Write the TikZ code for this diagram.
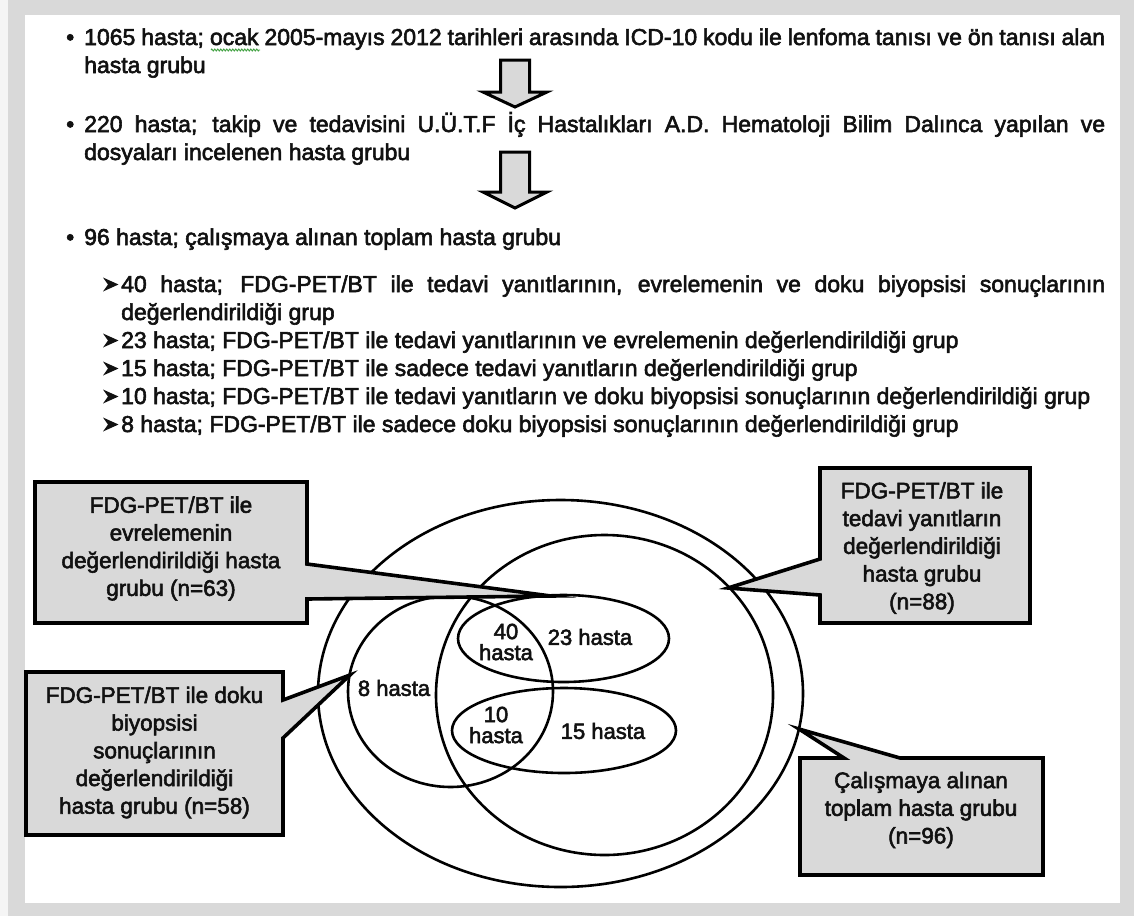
\documentclass[tikz,border=0pt]{standalone}
\usepackage{fontspec}
\setmainfont{Liberation Sans}[FakeBold=2.5]
\usetikzlibrary{decorations.pathmorphing}
\definecolor{framegray}{HTML}{D9D9D9}
\definecolor{boxgray}{HTML}{D9D9D9}
\definecolor{inkblack}{HTML}{111111}
\definecolor{spellgreen}{HTML}{3FA03F}
\begin{document}
\begin{tikzpicture}[x=1pt,y=-1pt,
  ln/.style={anchor=base west,inner sep=0pt,text=inkblack,font=\fontsize{23pt}{28pt}\selectfont},
  bul/.style={anchor=base west,inner sep=0pt,text=inkblack,font=\fontsize{23pt}{28pt}\selectfont},
  boxtxt/.style={inner sep=0pt,align=center,text=inkblack,font=\fontsize{22.5pt}{27.7pt}\selectfont},
  vlab/.style={inner sep=0pt,align=center,text=inkblack,font=\fontsize{22pt}{21pt}\selectfont},
  venn/.style={draw=black,line width=2.6pt},
  cbox/.style={draw=black,fill=boxgray,line width=3.6pt,line join=miter,miter limit=20},
  barrow/.style={draw=black,fill=boxgray,line width=3pt,line join=miter,miter limit=20},
  squiggle/.style={draw=spellgreen,line width=0.9pt,decorate,decoration={zigzag,segment length=3pt,amplitude=1pt}},
  subarrow/.pic={\fill[inkblack] (0,-14) -- (15.5,-7) -- (0,0) -- (5,-7) -- cycle;}
]
\useasboundingbox (0,0) rectangle (1134,916);
% frame
\fill[framegray] (0,0) rectangle (1134,916);
\fill[gray!8] (0,0) rectangle (8,916);
\fill[white] (25,15) rectangle (1120,903);

% main bullet text
\node[bul] (b1) at (66,45) {•};
\node[ln] (l1) at (84,45) {\makebox[1021pt][s]{1065 hasta; ocak 2005-mayıs 2012 tarihleri arasında ICD-10 kodu ile lenfoma tanısı ve ön tanısı alan}};
\coordinate (sqa) at (211,50);
\coordinate (sqb) at (260,50);
\draw[squiggle] (sqa) -- (sqb);
\node[ln] (l2) at (84,73) {hasta grubu};
\node[bul] (b3) at (66,132) {•};
\node[ln] (l3) at (84,132) {\makebox[1021pt][s]{220 hasta; takip ve tedavisini U.Ü.T.F İç Hastalıkları A.D. Hematoloji Bilim Dalınca yapılan ve}};
\node[ln] (l4) at (84,160) {dosyaları incelenen hasta grubu};
\node[bul] (b5) at (66,245) {•};
\node[ln] (l5) at (84,245) {96 hasta; çalışmaya alınan toplam hasta grubu};

% sub bullets
\foreach \yy in {292,348,376,404,432}{
  \pic at (103,\yy-0.5) {subarrow};
}
\node[ln] (s1) at (121,292) {\makebox[984pt][s]{40 hasta; FDG-PET/BT ile tedavi yanıtlarının, evrelemenin ve doku biyopsisi sonuçlarının}};
\node[ln] (s1b) at (121,320) {değerlendirildiği grup};
\node[ln] (s2) at (121,348) {23 hasta; FDG-PET/BT ile tedavi yanıtlarının ve evrelemenin değerlendirildiği grup};
\node[ln] (s3) at (121,376) {15 hasta; FDG-PET/BT ile sadece tedavi yanıtların değerlendirildiği grup};
\node[ln] (s4) at (121,404) {10 hasta; FDG-PET/BT ile tedavi yanıtların ve doku biyopsisi sonuçlarının değerlendirildiği grup};
\node[ln] (s5) at (121,432) {8 hasta; FDG-PET/BT ile sadece doku biyopsisi sonuçlarının değerlendirildiği grup};

% block arrows
\draw[barrow] (500.5,60) -- (529.5,60) -- (529.5,92) -- (547,92) -- (515,107) -- (483,92) -- (500.5,92) -- cycle;
\draw[barrow] (500.5,152) -- (529.5,152) -- (529.5,192) -- (547,192) -- (515,208) -- (483,192) -- (500.5,192) -- cycle;

% Venn ellipses
\draw[venn] (560.5,693.5) ellipse [x radius=242.5pt, y radius=193.5pt];
\draw[venn] (604.5,695) ellipse [x radius=168.5pt, y radius=160pt];
\draw[venn] (450.5,691.5) ellipse [x radius=102.5pt, y radius=95.5pt];
\draw[venn] (563.5,638.5) ellipse [x radius=105.5pt, y radius=43.5pt];
\draw[venn] (564,730.5) ellipse [x radius=112pt, y radius=42.5pt];

\node[vlab] (v40) at (506,642) {40\\hasta};
\node[vlab] (v23) at (590,637) {23 hasta};
\node[vlab] (v10) at (496,725) {10\\hasta};
\node[vlab] (v15) at (603,731) {15 hasta};
\node[vlab] (v8) at (394,688) {8 hasta};

% callouts
\draw[cbox] (35,482) -- (307,482) -- (307,564) -- (551,596) -- (307,599) -- (307,623) -- (35,623) -- cycle;
\draw[cbox] (26,672) -- (283,672) -- (283,700) -- (350,675) -- (283,738) -- (283,835) -- (26,835) -- cycle;
\draw[cbox] (820,468) -- (1030,468) -- (1030,623) -- (820,623) -- (820,595) -- (728,588) -- (820,559) -- cycle;
\draw[cbox] (800,758) -- (844,758) -- (799,729) -- (900,758) -- (1043,758) -- (1043,875) -- (800,875) -- cycle;

\node[boxtxt] (t1) at (171,548.5) {FDG-PET/BT ile\\evrelemenin\\değerlendirildiği hasta\\grubu (n=63)};
\node[boxtxt] (t2) at (154.5,752.5) {FDG-PET/BT ile doku\\biyopsisi\\sonuçlarının\\değerlendirildiği\\hasta grubu (n=58)};
\node[boxtxt] (t3) at (922,548) {FDG-PET/BT ile\\tedavi yanıtların\\değerlendirildiği\\hasta grubu\\(n=88)};
\node[boxtxt] (t4) at (921,810) {Çalışmaya alınan\\toplam hasta grubu\\(n=96)};
\end{tikzpicture}
\end{document}
